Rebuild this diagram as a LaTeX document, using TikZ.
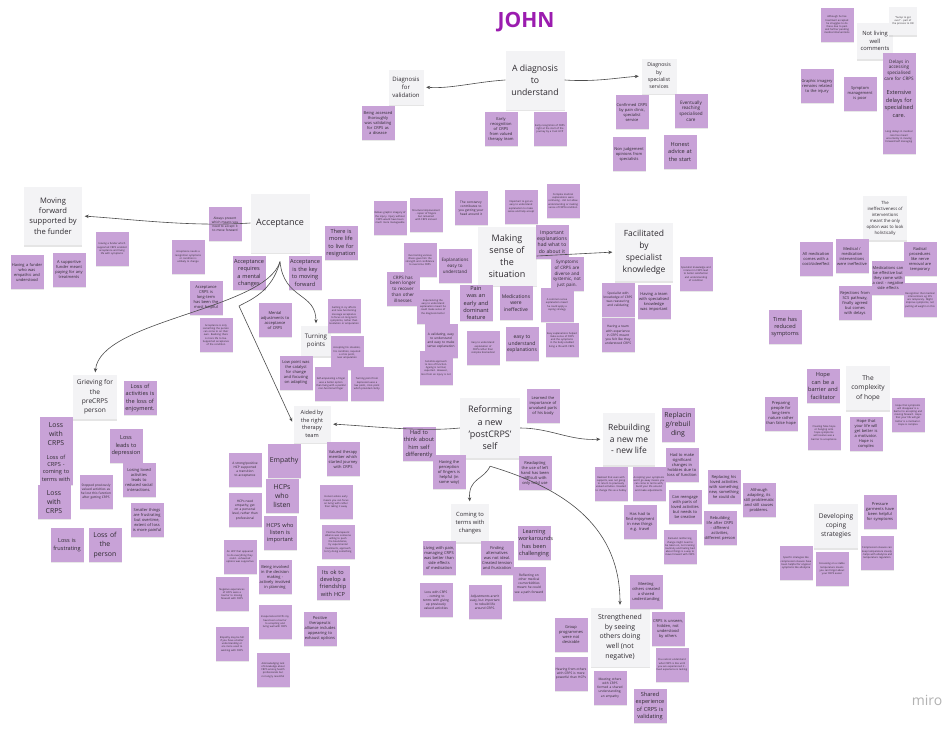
\documentclass[tikz,border=0pt]{standalone}
\usepackage{fontspec}
\setmainfont{Open Sans}
\usetikzlibrary{arrows.meta,shadows}
\definecolor{notefill}{HTML}{C8A2D7}
\definecolor{topicfill}{HTML}{F3F3F5}
\definecolor{notetext}{HTML}{2E2A30}
\definecolor{johnpurple}{HTML}{9B1CAF}
\hyphenpenalty=10000
\exhyphenpenalty=10000
\begin{document}
\begin{tikzpicture}[x=1pt,y=-1pt,
    note/.style={fill=notefill,text=notetext,minimum width=33pt,minimum height=34pt,text width=31pt,inner sep=1pt,align=center,
      drop shadow={shadow xshift=0pt,shadow yshift=-1.2pt,opacity=.18}},
    topic/.style={fill=topicfill,text=notetext,minimum size=#1,inner sep=1pt,align=center,
      drop shadow={shadow xshift=0pt,shadow yshift=-1.5pt,opacity=.2}},
    tinytext/.style={font=\fontsize{2.5}{3.2}\selectfont},
    smalltext/.style={font=\fontsize{3.2}{4.1}\selectfont},
    midtext/.style={font=\fontsize{4}{5}\selectfont},
    bigtext/.style={font=\fontsize{5.6}{7.4}\selectfont},
    hugetext/.style={font=\fontsize{6.9}{9.2}\selectfont},
    link/.style={draw=black!70,line width=.6pt,-{Stealth[length=4pt,width=3.4pt]},shorten >=2.5pt}]
    \fill[white] (0,0) rectangle (946,731);
    \useasboundingbox (0,0) rectangle (946,731);

    \node[text=johnpurple,font=\fontsize{21}{21}\selectfont\bfseries] (john) at (526,22) {JOHN};
    \node[text=black!30,font=\fontsize{14}{14}\selectfont] (miro) at (927,700) {miro};

    \node[topic=59pt,font=\fontsize{8.7}{12}\selectfont] (diag) at (535,80) {A diagnosis\\to\\understand};
    \node[topic=35pt,font=\fontsize{6}{8}\selectfont] (diagval) at (406,87) {Diagnosis\\for\\validation};
    \node[topic=35pt,font=\fontsize{5.2}{7.4}\selectfont] (diagspec) at (659,76) {Diagnosis\\by\\specialist\\services};
    \node[topic=36pt,font=\fontsize{5.8}{7.7}\selectfont] (notliving) at (875,41) {Not living\\well\\comments};
    \node[topic=28pt,tinytext,text width=25pt] (hump) at (903,21) {``hump to get over'' - part of the process to OR};
    \node[topic=58pt,font=\fontsize{7.6}{10.3}\selectfont] (moving) at (53,216) {Moving\\forward\\supported by\\the funder};
    \node[topic=59pt,font=\fontsize{9}{12}\selectfont] (acc) at (280,223) {Acceptance};
    \node[topic=59pt,font=\fontsize{9}{12}\selectfont] (making) at (507,256) {Making\\sense of\\the\\situation};
    \node[topic=58pt,font=\fontsize{8.5}{12}\selectfont] (facil) at (644,252) {Facilitated\\by\\specialist\\knowledge};
    \node[topic=44pt,font=\fontsize{4.3}{6}\selectfont] (ineff) at (885,218) {The\\ineffectiveness of\\interventions\\meant the only\\option was to look\\holistically};
    \node[topic=30pt,font=\fontsize{6.2}{8.3}\selectfont] (turning) at (316,341) {Turning\\points};
    \node[topic=44pt,font=\fontsize{6.6}{9.2}\selectfont] (grief) at (95,397) {Grieving for\\the\\preCRPS\\person};
    \node[topic=37pt,font=\fontsize{5.6}{7.7}\selectfont] (aided) at (312,424) {Aided by\\the right\\therapy\\team};
    \node[topic=60pt,font=\fontsize{9}{12.3}\selectfont] (reform) at (490,428) {Reforming\\a new\\'postCRPS'\\self};
    \node[topic=52pt,font=\fontsize{8.5}{11.7}\selectfont] (rebuild) at (629,439) {Rebuilding\\a new me\\- new life};
    \node[topic=38pt,font=\fontsize{5.8}{7.7}\selectfont] (coming) at (470,523) {Coming to\\terms with\\changes};
    \node[topic=59pt,font=\fontsize{6.9}{9.7}\selectfont] (strength) at (620,637) {Strengthened\\by seeing\\others doing\\well (not\\negative)};
    \node[topic=44pt,font=\fontsize{6.6}{9.3}\selectfont] (hope) at (868,388) {The\\complexity\\of hope};
    \node[topic=44pt,font=\fontsize{6.6}{9}\selectfont] (coping) at (836,526) {Developing\\coping\\strategies};

    \node[note,midtext] (early1) at (501,129) {Early recognition of CRPS from valued therapy team};
    \node[note,tinytext] (early2) at (550,129) {Early recognition of CRPS right at the start of the journey by a trust HCP};
    \node[note,midtext] (assessed) at (378,123) {Being assessed thoroughly was validating for CRPS as a disease};
    \node[note,midtext] (confirmed) at (632,112) {Confirmed CRPS by pain clinic, specialist service};
    \node[note,font=\fontsize{4.6}{5.8}\selectfont] (eventually) at (691,111) {Eventually reaching specialised care};
    \node[note,midtext] (nonjudge) at (629,154) {Non judgement opinions from specialists};
    \node[note,bigtext] (honest) at (680,152) {Honest advice at the start};

    \node[note,tinytext] (although) at (837,25) {Although he has treatment accepted he struggles to do these due to pain and further pending medical interventions};
    \node[note,midtext] (graphic) at (817,86) {Graphic imagery remains related to the injury};
    \node[note,midtext] (symptom) at (860,94) {Symptom management is poor};
    \node[note,font=\fontsize{4.6}{5.8}\selectfont] (delays) at (899,70) {Delays in accessing specialised care for CRPS};
    \node[note,bigtext] (extensive) at (899,104) {Extensive delays for specialised care.};
    \node[note,tinytext] (longdelays) at (899,137) {Long delays in medical care has meant uncertainty in moving forward/self managing};

    \node[note,smalltext] (alwayspres) at (225,224) {Always present which means you need to accept it to move forward};
    \node[note,tinytext] (havingfund) at (112,249) {Having a funder which supported CRPS enabled acceptance and living life with symptoms};
    \node[note,midtext] (empathic) at (27,272) {Having a funder who was empathic and understood};
    \node[note,midtext] (supportive) at (69,270) {A supportive funder meant paying for any treatments};
    \node[note,tinytext] (accneeds) at (188,257) {Acceptance needs a recognition symptoms or condition is unlikely to change};
    \node[note,midtext] (acclong) at (206,298) {Acceptance CRPS is long-term has been the most helpful};
    \node[note,tinytext] (acconly) at (216,335) {Acceptance is only something the person can come to on their own. Realising there is more life to live. Supported acceptance of the condition};
    \node[note,bigtext] (morelife) at (341,243) {There is more life to live for resignation};
    \node[note,bigtext] (accmental) at (249,273) {Acceptance requires a mental changes};
    \node[note,bigtext] (acckey) at (305,273) {Acceptance is the key to moving forward};
    \node[note,midtext] (mentaladj) at (275,320) {Mental adjustments to acceptance of CRPS};
    \node[note,tinytext] (gettingicy) at (344,316) {Getting in icy affects and now functioning message acceptance to focus on long-term symptoms, rather than resolution or amputation};
    \node[note,tinytext] (accepting) at (347,353) {Accepting his situation, his condition, required a crisis point, near amputation};
    \node[note,midtext] (lowpoint) at (296,373) {Low point was the catalyst for change and focusing on adapting};
    \node[note,tinytext] (selfamp) at (331,384) {Self-amputating a finger was a better option than living with a painful non-functional finger};
    \node[note,tinytext] (turnpt) at (367,384) {Turning point from depression was a low point, crisis point which provided clarity.};

    \node[note,tinytext] (relives) at (390,218) {Relives graphic imagery of the injury. Injury without CRPS would have been much more manageable};
    \node[note,tinytext] (structural) at (426,215) {Structural improvement - repair of fingers but remained with CRPS instead};
    \node[note,smalltext] (constancy) at (471,208) {The constancy contributes to you getting your head around it};
    \node[note,tinytext] (overcoming) at (420,260) {Overcoming various illness gave him the strength and confidence to overcome CRPS};
    \node[note,font=\fontsize{4.5}{5.7}\selectfont] (explan) at (455,266) {Explanations easy to understand};
    \node[note,font=\fontsize{4.5}{5.7}\selectfont] (longer) at (403,289) {CRPS has been longer to recover than other illnesses};
    \node[note,tinytext] (experiencing) at (433,307) {Experiencing the easy to understand explanation meant he could make sense of the diagnosis better};
    \node[note,smalltext] (validating) at (441,341) {A validating, easy to understand and easy to make sense explanation};
    \node[note,tinytext] (sensible) at (436,368) {Sensible approach to loss of function. Ageing is normal, expected. However, loss from an injury is not};
    \node[note,bigtext] (pain) at (476,303) {Pain was an early and dominant feature};
    \node[note,tinytext] (important) at (521,207) {Important to get an easy to understand explanation to make sense and help accept};
    \node[note,tinytext] (complex) at (563,201) {Complex medical explanations were confusing - did not allow understanding or making sense of CRPS/condition};
    \node[note,font=\fontsize{5}{6.3}\selectfont] (impexpl) at (552,242) {Important explanations had what to do about it};
    \node[note,font=\fontsize{4.5}{5.7}\selectfont] (diverse) at (567,274) {Symptoms of CRPS are diverse and systemic, not just pain.};
    \node[note,font=\fontsize{5}{6.3}\selectfont] (meds) at (516,303) {Medications were ineffective};
    \node[note,tinytext] (commonsense) at (557,305) {A common sense explanation meant he could apply a coping strategy};
    \node[note,tinytext] (easy1) at (483,348) {Easy to understand explanation of CRPS rather than complex biomedical};
    \node[note,font=\fontsize{5}{6.3}\selectfont] (easy2) at (522,344) {easy to understand explanations};
    \node[note,tinytext] (easy3) at (562,340) {Easy explanations helped make sense of CRPS and the symptoms in the body enabled living a life with CRPS.};
    \node[note,tinytext] (specknow) at (696,274) {Specialist knowledge and interest in CRPS lead to better satisfaction and understanding of condition};
    \node[note,smalltext] (specwith) at (618,300) {Specialist with knowledge of CRPS was reassuring and validating};
    \node[note,midtext] (teamspec) at (654,302) {Having a team with specialised knowledge was important};
    \node[note,smalltext] (teamexp) at (618,335) {Having a team with experience in CRPS meant you felt like they understood CRPS};

    \node[note,midtext] (allmed) at (816,259) {All medication comes with a cost/sideeffect};
    \node[note,midtext] (medint) at (852,256) {Medical / medication interventions were ineffective};
    \node[note,midtext] (radical) at (920,259) {Radical procedures like nerve removal are temporary};
    \node[note,midtext] (medscan) at (888,278) {Medications can be effective but they come with a cost - negative side effects};
    \node[note,midtext] (rejections) at (855,303) {Rejections from SCS pathway, finally agreed but comes with delays};
    \node[note,tinytext] (recognition) at (920,300) {Recognition that medical interventions eg SCS are temporary. Might improve symptoms, not putting all weight on this};
    \node[note,bigtext] (timehas) at (785,327) {Time has reduced symptoms};
    \node[note,bigtext] (hopebar) at (823,386) {Hope can be a barrier and facilitator};
    \node[note,midtext] (preparing) at (781,414) {Preparing people for long-term nature rather than false hope};
    \node[note,tinytext] (falsehope) at (824,433) {Creating false hope or hanging onto hope symptoms will resolve was a barrier to acceptance};
    \node[note,midtext] (hopelife) at (866,434) {Hope that your life will get better is a motivator. Hope is complex};
    \node[note,tinytext] (hopesym) at (908,415) {Hope that symptoms will disappear is a barrier to accepting and moving forward. Hope that your life will get better is a motivator. Hope is complex};

    \node[note,bigtext] (lossact) at (140,398) {Loss of activities is the loss of enjoyment.};
    \node[note,hugetext] (losswith1) at (56,434) {Loss\\with\\CRPS};
    \node[note,bigtext] (losscoming) at (56,468) {Loss of CRPS - coming to terms with};
    \node[note,bigtext] (lossdep) at (126,446) {Loss leads to depression};
    \node[note,midtext] (losing) at (139,480) {Losing loved activities leads to reduced social interactions.};
    \node[note,smalltext] (stopped) at (96,492) {Stopped previously valued activities as he lost this function after getting CRPS};
    \node[note,hugetext] (losswith2) at (54,502) {Loss\\with\\CRPS};
    \node[note,bigtext] (lossfrus) at (67,545) {Loss is frustrating};
    \node[note,hugetext] (lossperson) at (105,545) {Loss of\\the\\person};
    \node[note,midtext] (smaller) at (147,520) {Smaller things are frustrating but overtime, extent of loss is more painful};

    \node[note,bigtext] (hadthink) at (419,444) {Had to think about him self differently};
    \node[note,midtext] (perception) at (449,472) {Having the perception of fingers is helpful (in some way)};
    \node[note,hugetext] (empathy) at (284,461) {Empathy};
    \node[note,midtext] (valued) at (343,459) {Valued therapy member which started journey with CRPS};
    \node[note,smalltext] (strong) at (245,470) {A strong/positive HCP supported a transition to acceptance};
    \node[note,hugetext] (hcpslisten) at (282,496) {HCPs\\who\\listen};
    \node[note,smalltext] (hcpsneed) at (245,510) {HCPs need empathy, get on a personal level, rather than professional};
    \node[note,tinytext] (honestearly) at (336,502) {Honest advice early means you can focus on living with rather than taking it away};
    \node[note,bigtext] (listenimp) at (280,533) {HCPS who listen is important};
    \node[note,tinytext] (positive1) at (338,542) {Positive therapeutic alliance was someone willing to push the boundaries, try experimental treatments, approach to try doing something};
    \node[note,tinytext] (anhcp) at (240,557) {An HCP that appeared to do everything they could - exhausted options was supportive};
    \node[note,midtext] (involved) at (275,577) {Being involved in the decision making - actively involved in planning};
    \node[note,bigtext] (itsok) at (333,583) {Its ok to develop a friendship with HCP};
    \node[note,tinytext] (negative) at (232,594) {Negative experiences of HCPs were a barrier to moving forward with CRPS};
    \node[note,tinytext] (inexp) at (275,622) {Inexperienced HCPs my have been a barrier to accepting and living well with CRPS};
    \node[note,midtext] (positive2) at (320,629) {Positive therapeutic alliance includes appearing to exhaust options};
    \node[note,tinytext] (empmay) at (232,644) {Empathy may be felt if you have a better understanding or are more used to working with CRPS};
    \node[note,tinytext] (acknowledging) at (273,670) {Acknowledging lack of knowledge about CRPS among health professionals but not angry resentful};

    \node[note,midtext] (learned) at (543,406) {Learned the importance of unvalued parts of his body};
    \node[note,midtext] (readapting) at (535,473) {Readapting the use of left hand has been difficult with only mild use};
    \node[note,midtext] (livingpain) at (439,558) {Living with pain, managing CRPS was better than side effects of medication};
    \node[note,smalltext] (losscome) at (436,600) {Loss with CRPS - coming to terms with giving up previously valued activities};
    \node[note,midtext] (finding) at (497,558) {Finding alternatives was not ideal. Created tension and frustration};
    \node[note,bigtext] (learning) at (534,543) {Learning workarounds has been challenging};
    \node[note,smalltext] (reflecting) at (529,584) {Reflecting on other medical co-morbidities meant he could see a path forward};
    \node[note,smalltext] (adjustments) at (485,602) {Adjustments aren't easy, but important to rebuild life around CRPS.};

    \node[note,hugetext] (replacing) at (678,425) {Replacin\\g/rebuil\\ding};
    \node[note,tinytext] (realised) at (611,484) {Realised that even with supports, was not going to return to previously valued activities. Needed to change this as a hobby};
    \node[note,tinytext] (acceptsym) at (649,484) {Accepting your symptoms won't go away means you can come to terms with, build your life around and make adjustments.};
    \node[note,midtext] (significant) at (682,465) {Had to make significant changes in hobbies due to loss of function};
    \node[note,midtext] (reengage) at (685,507) {Can reengage with parts of loved activities but needs to be creative};
    \node[note,midtext] (enjoyment) at (640,522) {Has had to find enjoyment in new things e.g. travel};
    \node[note,tinytext] (demand) at (680,547) {Demand reinforcing, change might need to be taken on, not training routinely and feeling bad about things is a way to move forward with CRPS};
    \node[note,midtext] (replloved) at (724,487) {Replacing his loved activities with something new, something he could do};
    \node[note,midtext] (althadapt) at (759,500) {Although adapting, its still problematic and still causes problems.};
    \node[note,midtext] (rebuildlife) at (720,528) {Rebuilding life after CRPS - different activities, different person};

    \node[note,midtext] (pressure) at (880,512) {Pressure garments have been helpful for symptoms};
    \node[note,tinytext] (compression) at (877,553) {Compression sleeves can keep temperature steady - helps with allodynia and temperature regulation};
    \node[note,tinytext] (specific) at (796,563) {Specific strategies like compression sleeves have been helpful for atypical symptoms like allodynia};
    \node[note,tinytext] (focussing) at (832,569) {Focussing on a stable temperature means you can forget about your CRPS easier};

    \node[note,midtext] (meetcreated) at (646,592) {Meeting others created a shared understanding};
    \node[note,midtext] (group) at (571,635) {Group programmes were not desirable};
    \node[note,midtext] (unseen) at (668,629) {CRPS is unseen, hidden, not understood by others};
    \node[note,tinytext] (cannot) at (672,665) {You cannot understand what CRPS is like until you are experienced it - lived experience is lacking};
    \node[note,smalltext] (hearing) at (571,674) {Hearing from others with CRPS is more powerful than HCPs};
    \node[note,smalltext] (meetformed) at (610,688) {Meeting others with CRPS formed a shared understanding, an empathy};
    \node[note,bigtext] (shared) at (650,706) {Shared experience of CRPS is validating};

    \draw[link] (diag.west) .. controls (475,82) and (450,89) .. (diagval.east);
    \draw[link] (diag.east) .. controls (595,82) and (615,78) .. (diagspec.west);
    \draw[link] (acc.west) .. controls (190,227) and (130,219) .. (moving.east);
    \draw[link] ([yshift=-9pt]acc.south) .. controls (265,310) and (100,320) .. (grief.north);
    \draw[link] ([yshift=-9pt]acc.south) .. controls (284,300) and (316,292) .. (turning.north);
    \draw[link] ([yshift=-9pt]acc.south) .. controls (272,292) and (250,300) .. (239,306) -- (aided.west);
    \draw[link] (making.east) -- (facil.west);
    \draw[link] (reform.west) .. controls (420,432) and (370,426) .. (aided.east);
    \draw[link] (reform.east) .. controls (550,428) and (570,441) .. (rebuild.west);
    \draw[link] ([yshift=-8pt]reform.south) .. controls (484,480) and (468,478) .. (coming.north);
    \draw[link] ([yshift=-8pt]reform.south) .. controls (570,490) and (620,530) .. (strength.north);

\end{tikzpicture}
\end{document}
